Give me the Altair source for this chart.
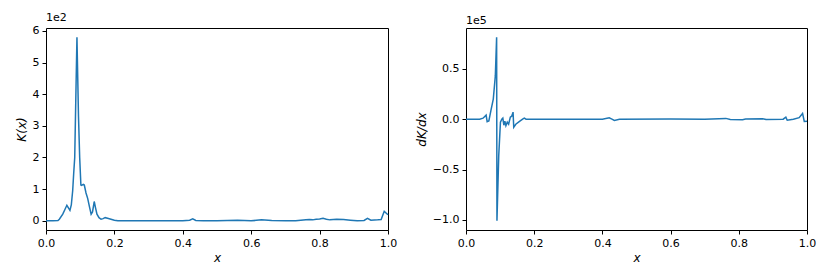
import altair as alt
import pandas as pd

# K(x)
k_x = [0.0, 0.02, 0.035, 0.039, 0.049, 0.055, 0.061, 0.066, 0.070, 0.074, 0.078, 0.081,
       0.084, 0.0905, 0.095, 0.0985, 0.102, 0.104, 0.109, 0.112, 0.117, 0.122, 0.127, 0.132,
       0.136, 0.141, 0.145, 0.149, 0.155, 0.161, 0.167, 0.173, 0.180, 0.19, 0.20, 0.21,
       0.25, 0.30, 0.35, 0.40, 0.42, 0.429, 0.438, 0.46, 0.50, 0.56, 0.60, 0.63, 0.66,
       0.70, 0.73, 0.76, 0.77, 0.78, 0.79, 0.80, 0.81, 0.82, 0.83, 0.85, 0.87, 0.89,
       0.91, 0.93, 0.94, 0.95, 0.97, 0.98, 0.989, 0.995, 1.0]
k_v = [0, 0, 1, 5, 21, 35, 49, 40, 33, 50, 95, 150,
       200, 580, 330, 200, 113, 112, 115, 113, 88, 70, 45, 21,
       28, 61, 40, 21, 10, 5, 7, 10, 8, 5, 2, 0,
       0, 0, 0, 0, 2, 6, 1, 0, 0, 2, 0, 3, 1,
       0, 0, 3, 4, 3, 5, 6, 8, 5, 3, 5, 4, 2,
       0, 1, 8, 2, 3, 4, 30, 24, 19]

# dK/dx
d_x = [0.0, 0.04, 0.05, 0.059, 0.062, 0.067, 0.073, 0.080, 0.086, 0.0898, 0.0908, 0.096,
       0.101, 0.105, 0.108, 0.111, 0.114, 0.117, 0.121, 0.125, 0.130, 0.134, 0.138, 0.140,
       0.146, 0.156, 0.166, 0.171, 0.176, 0.20, 0.30, 0.40, 0.42, 0.428, 0.435, 0.45,
       0.60, 0.70, 0.762, 0.775, 0.811, 0.82, 0.87, 0.88, 0.93, 0.938, 0.942, 0.96,
       0.977, 0.987, 0.992, 1.0]
d_v = [0, 0, 1000, 4000, -2400, -1700, 8500, 20000, 43000, 81500, -101000, -36000,
       -3000, 0, 1000, -6000, -2000, -6500, -3000, -5000, 2000, 3000, 7000, -8000,
       -5000, -2500, 0, 1000, 0, 0, 0, 0, 1300, 0, -1200, 0,
       300, 0, 800, -300, -500, 200, 500, -300, 0, 2000, -1000, 0,
       1500, 5700, -2300, -2000]

df_k = pd.DataFrame({"x": k_x, "y": k_v})
df_d = pd.DataFrame({"x": d_x, "y": d_v})

FONT = "DejaVu Sans"
BLUE = "#1f77b4"

x_axis = alt.Axis(values=[0, 0.2, 0.4, 0.6, 0.8, 1.0], format=".1f", title="x",
                  titleFontStyle="italic", labelFlush=False)

left = alt.Chart(df_k, title=alt.TitleParams("1e2", anchor="start", frame="group",
                                              fontSize=11, fontWeight="normal", font=FONT,
                                              offset=2, color="black")).mark_line(
    color=BLUE, strokeWidth=1.5
).encode(
    x=alt.X("x:Q", scale=alt.Scale(domain=[0, 1], nice=False, zero=False), axis=x_axis),
    y=alt.Y("y:Q", scale=alt.Scale(domain=[-29, 609], nice=False, zero=False),
            axis=alt.Axis(values=[0, 100, 200, 300, 400, 500, 600],
                          labelExpr="format(datum.value/100, '.0f')",
                          title="K(x)", titleFontStyle="italic")),
).properties(width=342, height=202)

right = alt.Chart(df_d, title=alt.TitleParams("1e5", anchor="start", frame="group",
                                               fontSize=11, fontWeight="normal", font=FONT,
                                               offset=2, color="black")).mark_line(
    color=BLUE, strokeWidth=1.5
).encode(
    x=alt.X("x:Q", scale=alt.Scale(domain=[0, 1], nice=False, zero=False), axis=x_axis),
    y=alt.Y("y:Q", scale=alt.Scale(domain=[-110100, 90600], nice=False, zero=False),
            axis=alt.Axis(values=[-100000, -50000, 0, 50000],
                          labelExpr="replace(format(datum.value/100000, '.1f'), '-', '\u2212')",
                          title="dK/dx", titleFontStyle="italic")),
).properties(width=341, height=202)

chart = alt.hconcat(left, right, spacing=16).properties(
    padding={"left": 6, "top": 3, "right": 5, "bottom": 0},
    background="white"
).configure_view(
    stroke="black", strokeWidth=1
).configure_axis(
    grid=False, domain=False, tickColor="black", tickSize=4, tickWidth=1,
    labelFont=FONT, labelFontSize=11, labelColor="black", labelPadding=3,
    titleFont=FONT, titleFontSize=12, titleFontWeight="normal", titleColor="black",
    titlePadding=4
)

chart.save("out.html", embed_options={"renderer": "svg", "actions": False})
